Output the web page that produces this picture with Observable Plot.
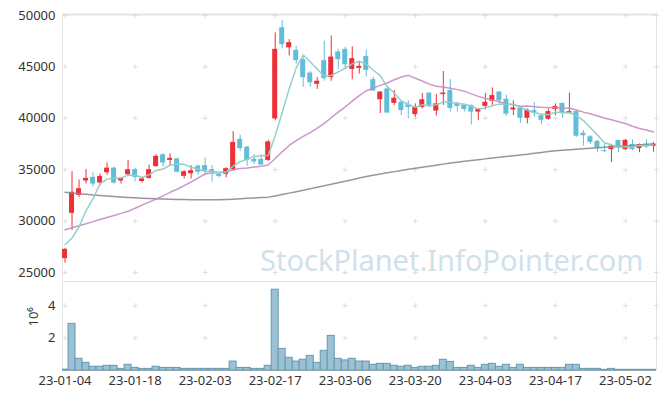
<!DOCTYPE html>
<html><head><meta charset="utf-8">
<script src="https://cdn.jsdelivr.net/npm/d3@7"></script>
<script src="https://cdn.jsdelivr.net/npm/@observablehq/plot@0.6"></script>
<style>
html,body{margin:0;padding:0;background:#fff;}
#chart{width:665px;height:399px;position:relative;overflow:hidden;background:#fff;}
#chart svg{display:block;}
</style></head><body><div id="chart"></div>
<script>
const dates = ["23-01-04","23-01-05","23-01-06","23-01-09","23-01-10","23-01-11","23-01-12","23-01-13","23-01-16","23-01-17",
"23-01-18","23-01-19","23-01-20","23-01-25","23-01-26","23-01-27","23-01-30","23-01-31","23-02-01","23-02-02",
"23-02-03","23-02-06","23-02-07","23-02-08","23-02-09","23-02-10","23-02-13","23-02-14","23-02-15","23-02-16",
"23-02-17","23-02-20","23-02-21","23-02-22","23-02-23","23-02-24","23-02-27","23-02-28","23-03-02","23-03-03",
"23-03-06","23-03-07","23-03-08","23-03-09","23-03-10","23-03-13","23-03-14","23-03-15","23-03-16","23-03-17",
"23-03-20","23-03-21","23-03-22","23-03-23","23-03-24","23-03-27","23-03-28","23-03-29","23-03-30","23-03-31",
"23-04-03","23-04-04","23-04-05","23-04-06","23-04-07","23-04-10","23-04-11","23-04-12","23-04-13","23-04-14",
"23-04-17","23-04-18","23-04-19","23-04-20","23-04-21","23-04-24","23-04-25","23-04-26","23-04-27","23-04-28",
"23-05-02","23-05-03","23-05-04","23-05-08","23-05-09"];

const open = [26350,30750,32500,33900,34250,33700,34700,35150,33900,34500,
35000,33850,34150,35300,36450,35900,36050,34350,34600,35350,
35400,35000,34550,34550,35000,37950,37200,36000,36000,35900,
39950,48800,46850,46600,45700,44400,43300,45600,43950,46450,
46700,44750,44850,46000,43750,41800,42850,41450,41550,41300,
40350,41050,42450,40700,42300,42700,41450,41250,41250,40600,
41150,41650,42550,41850,40800,41000,40000,40750,40250,39900,
40850,41450,40450,40650,38550,38200,37750,36850,36950,37850,
36950,37450,37050,37500,37250];

const high = [27350,34800,34000,35000,34700,34600,35650,35250,34250,35900,
35100,34250,35450,36450,36550,36550,36100,34900,35400,35450,
36150,35400,34700,35200,38700,38350,37250,36450,36450,37850,
48300,49500,47650,47000,45900,44550,43950,47500,48000,46700,
46900,46950,45500,46650,44000,42550,43000,42700,41700,41700,
41400,42400,42450,42300,44550,43750,41550,41300,41300,40950,
42400,42950,42600,42250,41700,41000,40900,41500,40350,40900,
41400,41450,42450,40650,38800,38300,37850,37500,37350,37850,
37950,37900,37500,37900,37650];

const low = [25900,29100,32300,33600,33300,33450,34450,33600,33600,34450,
33800,33700,34100,35250,35250,35400,34700,34100,34100,34450,
34450,33800,34200,34200,34850,36800,35350,35500,35450,35800,
39800,46750,46050,45250,43000,43000,42800,43600,43600,44750,
44750,43750,44300,44000,42650,40450,40500,41250,40250,39950,
40100,40900,41050,40200,41250,40600,40600,40600,39350,39800,
40800,41250,41400,40200,40250,39500,39450,40100,39350,39800,
40250,40000,40450,38150,37300,37450,36700,36700,35700,36650,
36850,36850,36650,37050,36700];

const close = [27250,32800,33150,34150,33600,34350,35150,33700,34150,35000,
34250,34100,35000,36300,35650,36100,34750,34800,34900,34750,
34900,34750,34350,35100,37650,37050,35900,35750,35450,37700,
46700,47150,47350,45600,43950,43450,43600,43850,45950,45700,
45200,45800,45050,44650,42650,42550,40500,41950,40750,41050,
41050,41800,41250,41400,42450,40950,41150,40850,40600,40900,
41550,42200,41700,40400,41000,40000,40800,40500,39800,40650,
41150,40550,40650,38250,38300,37650,37050,36750,37300,37100,
37850,36950,37450,37200,37500];

const volume = [50000,2870000,720000,470000,230000,230000,290000,290000,100000,350000,
160000,100000,100000,230000,160000,160000,160000,100000,100000,100000,
100000,100000,100000,100000,550000,160000,160000,100000,100000,290000,
4970000,1330000,780000,550000,660000,900000,470000,1210000,2130000,720000,
620000,720000,550000,550000,350000,410000,410000,290000,230000,290000,
160000,230000,230000,290000,660000,530000,160000,160000,290000,160000,
350000,410000,230000,350000,160000,350000,160000,160000,160000,160000,
160000,160000,350000,350000,100000,100000,100000,40000,100000,40000,
40000,40000,40000,40000,40000];

const ma5 = [27700,28350,29450,31000,32190,33610,34080,34190,34190,34470,
34450,34240,34500,34930,35060,35430,35560,35520,35240,35060,
34820,34820,34730,34770,35350,35780,36010,36290,36360,36370,
38300,40550,42870,44900,46150,45500,44790,44090,44160,44510,
44860,45300,45540,45280,44670,44140,43080,42460,41680,41360,
41060,41320,41180,41310,41590,41570,41440,41360,41200,40890,
41010,41220,41390,41350,41370,41060,40780,40540,40420,40350,
40580,40530,40560,40250,39780,39080,38380,37610,37420,37180,
37220,37200,37340,37320,37400];

const ma20 = [29150,29350,29550,29750,29950,30150,30350,30550,30750,30950,
31250,31550,31850,32150,32450,32800,33100,33450,33800,34195,
34578,34675,34735,34783,34985,35120,35158,35260,35325,35460,
36083,36735,37353,37818,38233,38600,39043,39495,40048,40595,
41110,41663,42198,42675,42925,43200,43430,43740,44005,44173,
43890,43623,43318,43108,43033,42908,42785,42635,42368,42128,
41945,41765,41598,41385,41303,41175,41190,41118,41070,41050,
41055,40993,40963,40805,40598,40433,40228,40023,39858,39668,
39483,39220,39008,38848,38673];

const ma120 = [32800,32730,32660,32600,32540,32480,32430,32380,32340,32300,
32260,32230,32200,32170,32150,32130,32110,32090,32080,32070,
32070,32070,32070,32100,32130,32170,32210,32250,32290,32330,
32450,32580,32720,32860,33000,33140,33280,33430,33580,33730,
33880,34030,34180,34330,34460,34580,34700,34810,34920,35030,
35140,35240,35340,35440,35540,35640,35730,35810,35890,35970,
36050,36130,36210,36290,36360,36430,36500,36600,36680,36760,
36830,36880,36930,36980,37030,37080,37130,37170,37210,37250,
37300,37350,37400,37450,37500];

const priceTicks = [25000,30000,35000,40000,45000,50000];
const volumeTicks = [2000000,4000000];
const watermark = "StockPlanet.InfoPointer.com";
const volumeUnitLabel = "10\u2076";

const rows = dates.map((date, i) => ({i, date, open: open[i], high: high[i], low: low[i], close: close[i],
  volume: volume[i], ma5: ma5[i], ma20: ma20[i], ma120: ma120[i], up: close[i] >= open[i]}));
const upRows = rows.filter(d => d.up);
const downRows = rows.filter(d => !d.up);

const xDomain = [-0.36, 84.43];
const priceDomain = [24125, 50090];
const volumeDomain = [0, 5415000];
const xTicks = d3.range(0, dates.length, 10);
const gridX = [...xTicks, xDomain[1]];
const priceGrid = gridX.flatMap(x => priceTicks.map(y => ({x, y})));
const volumeGrid = gridX.flatMap(x => volumeTicks.map(y => ({x, y})));

const plusSymbol = {draw(ctx) { const a = 2.5; ctx.moveTo(-a, 0); ctx.lineTo(a, 0); ctx.moveTo(0, -a); ctx.lineTo(0, a); }};

const UP = "#ee2f36", DOWN = "#62bdd8", BORDER = "#e4e4e4";
const style = {fontFamily: "'Noto Sans', sans-serif", fontSize: "13px", color: "#333", background: "transparent"};

const pricePlot = Plot.plot({
  width: 665, height: 282, marginTop: 14, marginBottom: 1, marginLeft: 62, marginRight: 9,
  style,
  x: {domain: xDomain, axis: null},
  y: {domain: priceDomain, ticks: priceTicks, tickSize: 0, tickPadding: 7, tickFormat: d => String(d), label: null},
  marks: [
    Plot.text([watermark], {text: d => d, frameAnchor: "bottom-right", textAnchor: "end", lineAnchor: "bottom",
      dx: -13, dy: -11, fontSize: 29, fontFamily: "'Noto Sans', sans-serif", fill: "#d0e1eb"}),
    Plot.frame({stroke: BORDER}),
    Plot.ruleY([priceDomain[1]], {stroke: BORDER, strokeWidth: 2}),
    Plot.dot(priceGrid, {x: "x", y: "y", symbol: plusSymbol, r: 3, stroke: "#dedede", fill: "none", strokeWidth: 1}),
    Plot.ruleX(upRows, {x: "i", y1: "low", y2: "high", stroke: UP, strokeWidth: 1}),
    Plot.ruleX(downRows, {x: "i", y1: "low", y2: "high", stroke: DOWN, strokeWidth: 1}),
    Plot.rectY(upRows, {x1: d => d.i - 0.5, x2: d => d.i + 0.5, y1: "open", y2: "close", fill: UP, insetLeft: 1, insetRight: 1}),
    Plot.rectY(downRows, {x1: d => d.i - 0.5, x2: d => d.i + 0.5, y1: "open", y2: "close", fill: DOWN, insetLeft: 1, insetRight: 1}),
    Plot.line(rows, {x: "i", y: "ma120", stroke: "#8c8c8c", strokeWidth: 1.5, strokeOpacity: 0.9}),
    Plot.line(rows, {x: "i", y: "ma20", stroke: "#c98ac7", strokeWidth: 1.5, strokeOpacity: 0.9}),
    Plot.line(rows, {x: "i", y: "ma5", stroke: "#8dcfc4", strokeWidth: 1.5, strokeOpacity: 0.95})
  ]
});

const volumePlot = Plot.plot({
  width: 665, height: 117, marginTop: 0, marginBottom: 29, marginLeft: 62, marginRight: 9,
  style,
  x: {domain: xDomain, ticks: xTicks, tickFormat: i => dates[i], tickSize: 0, tickPadding: 5, label: null},
  y: {domain: volumeDomain, ticks: volumeTicks, tickSize: 0, tickPadding: 7, tickFormat: d => String(d / 1e6), label: null},
  marks: [
    Plot.ruleX([xDomain[0], xDomain[1]], {stroke: BORDER}),
    Plot.dot(volumeGrid, {x: "x", y: "y", symbol: plusSymbol, r: 3, stroke: "#dedede", fill: "none", strokeWidth: 1}),
    Plot.rectY(rows, {x1: d => d.i - 0.5, x2: d => d.i + 0.5, y1: 0, y2: "volume", fill: "#9bc2d4", stroke: "#6798af", strokeWidth: 1, clip: true}),
    Plot.ruleY([0], {stroke: "#8fa9b6"}),
    Plot.text([volumeUnitLabel], {text: d => d, frameAnchor: "left", rotate: -90, dx: -29, fontSize: 13, fill: "#333"})
  ]
});

const chart = document.getElementById("chart");
chart.appendChild(pricePlot);
chart.appendChild(volumePlot);
</script></body></html>
